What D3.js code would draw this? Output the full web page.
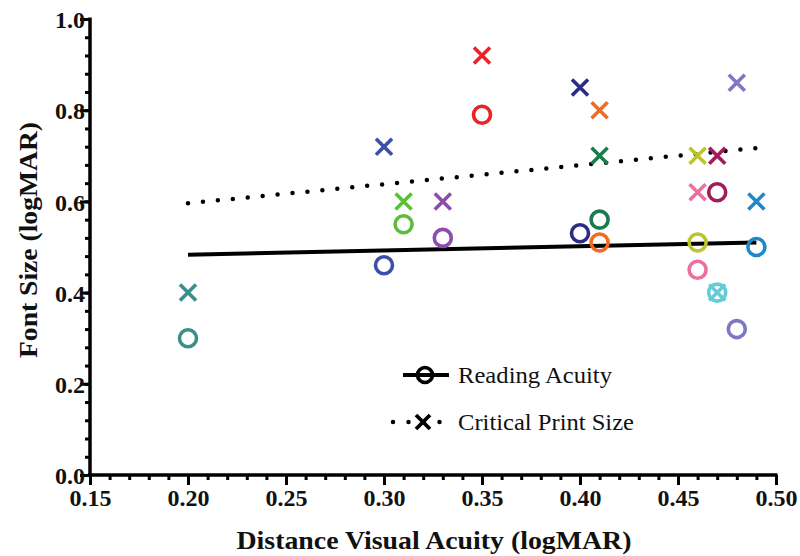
<!DOCTYPE html>
<html>
<head>
<meta charset="utf-8">
<script src="https://cdn.jsdelivr.net/npm/d3@7"></script>
<style>
  body { margin: 0; background: white; }
</style>
</head>
<body>
<script>
// distance visual acuity of each subject
let dva = [0.20, 0.30, 0.31, 0.33, 0.35, 0.40, 0.41, 0.41, 0.46, 0.46, 0.47, 0.47, 0.48, 0.49];
// reading acuity (circles) and critical print size (crosses)
let readingAcuity = [0.30, 0.46, 0.55, 0.52, 0.79, 0.53, 0.51, 0.56, 0.51, 0.45, 0.62, 0.40, 0.32, 0.50];
let criticalPrint = [0.40, 0.72, 0.60, 0.60, 0.92, 0.85, 0.80, 0.70, 0.70, 0.62, 0.70, 0.40, 0.86, 0.60];
let subjectColors = ["#3a8f8a", "#3d4fa8", "#5cbf3c", "#8e4bb0", "#e8232a", "#2b2d84", "#f26b22",
                     "#1b7a4e", "#bcc42c", "#ec6fa0", "#a01c5a", "#62cdd8", "#7e78c4", "#1f88c9"];
// fitted lines, read from end points
let fitX = [0.20, 0.49];
let fitReading = [0.483, 0.510];
let fitCritical = [0.596, 0.717];

let xTicks = [0.15, 0.20, 0.25, 0.30, 0.35, 0.40, 0.45, 0.50];
let yTicks = [0.0, 0.2, 0.4, 0.6, 0.8, 1.0];

// pick a Times-like font that is really installed
let ctx = document.createElement("canvas").getContext("2d");
function hasFont(name) {
    ctx.font = "30px monospace";
    let w0 = ctx.measureText("Reading Acuity 0.15").width;
    ctx.font = "30px '" + name + "', monospace";
    return ctx.measureText("Reading Acuity 0.15").width !== w0;
}
let serif = ["Liberation Serif", "Tinos", "Times New Roman", "Nimbus Roman", "FreeSerif", "DejaVu Serif"]
    .find(hasFont) || "serif";
let fam = "'" + serif + "', serif";

let width = 800, height = 556;
let svg = d3.select("body").append("svg")
    .attr("width", width)
    .attr("height", height)
    .style("background-color", "white")
    .style("font-family", fam);

let x = d3.scaleLinear().domain([0.15, 0.50]).range([90, 776]);
let y = d3.scaleLinear().domain([0, 1]).range([475, 19]);

// minor ticks first
let xMinor = d3.range(0.15, 0.5001, 0.01);
let yMinor = d3.range(0, 1.0001, 0.04);

svg.append("g")
    .attr("transform", "translate(0,475)")
    .call(d3.axisBottom(x).tickValues(xMinor).tickSize(5).tickFormat("").tickSizeOuter(0))
    .call(g => g.select(".domain").remove())
    .selectAll("line").attr("stroke-width", 3);

svg.append("g")
    .attr("transform", "translate(90,0)")
    .call(d3.axisLeft(y).tickValues(yMinor).tickSize(5).tickFormat("").tickSizeOuter(0))
    .call(g => g.select(".domain").remove())
    .selectAll("line").attr("stroke-width", 3);

let xAxis = svg.append("g")
    .attr("transform", "translate(0,475)")
    .call(d3.axisBottom(x).tickValues(xTicks).tickSize(10).tickSizeOuter(0).tickFormat(d3.format(".2f")));
xAxis.attr("font-family", null);
xAxis.select(".domain").attr("stroke-width", 3.5).attr("d", "M88,0H777.5");
xAxis.selectAll("line").attr("stroke-width", 3);
xAxis.selectAll("text")
    .attr("y", 14)
    .style("font-family", fam)
    .style("font-weight", "bold")
    .style("font-size", "24px")
    .attr("fill", "#111");

let yAxis = svg.append("g")
    .attr("transform", "translate(90,0)")
    .call(d3.axisLeft(y).tickValues(yTicks).tickSize(10).tickSizeOuter(0).tickFormat(d3.format(".1f")));
yAxis.attr("font-family", null);
yAxis.select(".domain").attr("stroke-width", 3.5).attr("d", "M0,476.5V17.5");
yAxis.selectAll("line").attr("stroke-width", 3);
yAxis.selectAll("text")
    .attr("x", -5)
    .attr("dy", "0.36em")
    .style("font-family", fam)
    .style("font-weight", "bold")
    .style("font-size", "24px")
    .attr("fill", "#111");

// axis titles
svg.append("text")
    .attr("x", 434).attr("y", 549)
    .attr("text-anchor", "middle")
    .attr("font-weight", "bold")
    .attr("font-size", 25)
    .attr("textLength", 395).attr("lengthAdjust", "spacingAndGlyphs")
    .attr("fill", "#111")
    .text("Distance Visual Acuity (logMAR)");

svg.append("text")
    .attr("transform", "translate(37,240) rotate(-90)")
    .attr("text-anchor", "middle")
    .attr("font-weight", "bold")
    .attr("font-size", 25)
    .attr("textLength", 236).attr("lengthAdjust", "spacingAndGlyphs")
    .attr("fill", "#111")
    .text("Font Size (logMAR)");

// fitted lines
let fitLine = d3.line().x(d => x(d[0])).y(d => y(d[1]));
svg.append("path")
    .attr("d", fitLine(d3.zip(fitX, fitReading)))
    .attr("stroke", "black").attr("stroke-width", 4).attr("fill", "none");
svg.append("path")
    .attr("d", fitLine(d3.zip(fitX, fitCritical)))
    .attr("stroke", "black").attr("stroke-width", 4.5).attr("fill", "none")
    .attr("stroke-linecap", "round").attr("stroke-dasharray", "0 15");

// markers
let xMark = (g, cx, cy, s, col, w) => {
    g.append("path")
        .attr("d", `M${cx - s},${cy - s}L${cx + s},${cy + s}M${cx - s},${cy + s}L${cx + s},${cy - s}`)
        .attr("stroke", col).attr("stroke-width", w).attr("fill", "none");
};

let pts = svg.append("g");
dva.forEach((d, i) => {
    pts.append("circle")
        .attr("cx", x(d)).attr("cy", y(readingAcuity[i])).attr("r", 8.5)
        .attr("fill", "none").attr("stroke", subjectColors[i]).attr("stroke-width", 3.6);
});
dva.forEach((d, i) => {
    xMark(pts, x(d), y(criticalPrint[i]), 8, subjectColors[i], 3.6);
});

// legend
let leg = svg.append("g");
leg.append("line").attr("x1", 403).attr("x2", 449).attr("y1", 375).attr("y2", 375)
    .attr("stroke", "black").attr("stroke-width", 4);
leg.append("circle").attr("cx", 425).attr("cy", 375).attr("r", 7.5)
    .attr("fill", "none").attr("stroke", "black").attr("stroke-width", 3.6);
leg.append("text").attr("x", 458).attr("y", 383).attr("font-size", 23)
    .attr("textLength", 154).attr("lengthAdjust", "spacingAndGlyphs")
    .attr("fill", "#111").text("Reading Acuity");

leg.append("line").attr("x1", 393).attr("x2", 441).attr("y1", 422).attr("y2", 422)
    .attr("stroke", "black").attr("stroke-width", 4.5)
    .attr("stroke-linecap", "round").attr("stroke-dasharray", "0 15.5");
xMark(leg, 423, 422, 7, "black", 3.8);
leg.append("text").attr("x", 458).attr("y", 430).attr("font-size", 23)
    .attr("textLength", 176).attr("lengthAdjust", "spacingAndGlyphs")
    .attr("fill", "#111").text("Critical Print Size");
</script>
</body>
</html>
